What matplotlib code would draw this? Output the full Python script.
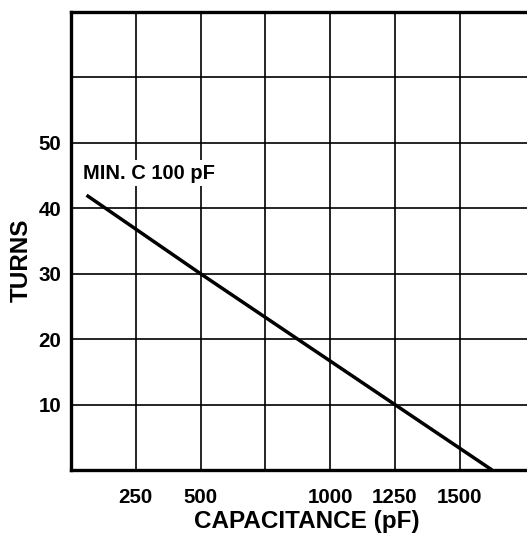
import matplotlib
matplotlib.use("Agg")
import matplotlib.pyplot as plt

# chart data
cap_pf = [60, 500, 1250, 1625]
turns = [42, 30, 10, 0]
x_ticks = [250, 500, 750, 1000, 1250, 1500]
x_labels = ["250", "500", "", "1000", "1250", "1500"]
y_ticks = [10, 20, 30, 40, 50, 60]
y_labels = ["10", "20", "30", "40", "50", ""]

plt.rcParams["font.family"] = ["Liberation Sans", "DejaVu Sans"]
plt.rcParams["font.weight"] = "bold"

fig = plt.figure(figsize=(5.27, 5.36), dpi=100)
ax = fig.add_axes([71 / 527, 1 - 470 / 536, 1 - 71 / 527, (470 - 12) / 536])

ax.plot(cap_pf, turns, color="black", linewidth=2.5, solid_capstyle="butt", zorder=3)

ax.set_xlim(0, 1760)
ax.set_ylim(0, 70)
ax.set_xticks(x_ticks)
ax.set_xticklabels(x_labels, fontsize=14.8, fontweight="bold")
ax.set_yticks(y_ticks)
ax.set_yticklabels(y_labels, fontsize=14.8, fontweight="bold")
ax.tick_params(length=0, pad=7)
ax.tick_params(axis="x", pad=13)
ax.grid(True, color="black", linewidth=1.2)
ax.set_axisbelow(True)

for side in ["left", "bottom", "top"]:
    ax.spines[side].set_linewidth(2.4)
ax.spines["right"].set_visible(False)

ax.text(45, 44.5, "MIN. C 100 pF", fontsize=14.5, fontweight="bold", va="baseline",
        bbox=dict(facecolor="white", edgecolor="none", pad=2.5), zorder=4)

ax.set_xlabel("CAPACITANCE (pF)", fontsize=17.5, fontweight="bold")
ax.set_ylabel("TURNS", fontsize=17.5, fontweight="bold")
ax.xaxis.set_label_coords(0.517, -0.088)
ax.yaxis.set_label_coords(-0.083, 0.459)

fig.savefig("out.png", dpi=100)
